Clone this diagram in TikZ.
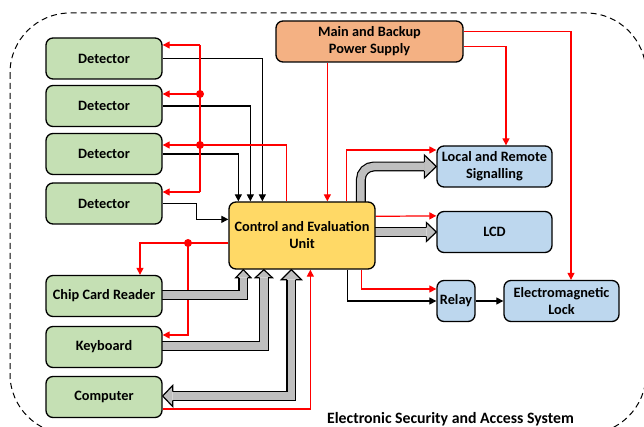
\documentclass[tikz,border=0pt]{standalone}
\usepackage{fontspec}
\setmainfont{Carlito}
\usetikzlibrary{arrows.meta,calc}
\definecolor{grn}{HTML}{C5E0B4}
\definecolor{org}{HTML}{F4B183}
\definecolor{yel}{HTML}{FFD966}
\definecolor{blu}{HTML}{BDD7EE}
\definecolor{gry}{HTML}{BFBFBF}
\pgfdeclarelayer{bg}
\pgfsetlayers{bg,main}
\pgfkeys{/tikz/ghw/.initial=10,/tikz/ghl/.initial=10}
\tikzset{
  box/.style={draw=black, line width=1.3pt, rounded corners=7pt, align=center,
    inner sep=0pt, font=\bfseries\fontsize{14.3}{17}\selectfont,
    minimum width=116pt, minimum height=41pt},
  gbox/.style={box, fill=grn},
  obox/.style={box, fill=org, minimum width=187pt},
  ybox/.style={box, fill=yel, minimum width=146pt, minimum height=67pt},
  bbox/.style={box, fill=blu, minimum width=115pt},
  sig/.style={draw=black, line width=1.2pt, -{Triangle[length=7pt,width=7pt]}},
  pwr/.style={draw=red, line width=1.2pt, -{Triangle[length=7pt,width=7pt]}},
  pwrline/.style={draw=red, line width=1.2pt},
  jdot/.style={fill=red},
  bus/.style={draw=black, line width=1.2pt, double=gry, double distance=7.5pt},
  ghead/.pic={
    \def\hw{\pgfkeysvalueof{/tikz/ghw}}%
    \def\hl{\pgfkeysvalueof{/tikz/ghl}}%
    \fill[gry] (-\hl,-4.35) -- (-\hl,-\hw) -- (0,0) -- (-\hl,\hw) -- (-\hl,4.35) -- cycle;
    \draw[line width=1.2pt, line join=miter] (-\hl,-4.35) -- (-\hl,-\hw) -- (0,0) -- (-\hl,\hw) -- (-\hl,4.35);
  }
}
\begin{document}
\begin{tikzpicture}[x=1pt,y=-1pt]
\useasboundingbox (0,0) rectangle (644,427);
% system boundary
\draw[dash pattern=on 6pt off 4pt, line width=1pt, rounded corners=60pt] (10,13) rectangle (646,434);

% input devices
\node[gbox] (d1) at (104,58.5) {Detector};
\node[gbox] (d2) at (104,106) {Detector};
\node[gbox] (d3) at (104,154) {Detector};
\node[gbox] (d4) at (104,203.5) {Detector};
\node[gbox] (ccr) at (104,296) {Chip Card Reader};
\node[gbox] (kb) at (104,347) {Keyboard};
\node[gbox] (pc) at (104,397) {Computer};
% supply and control
\node[obox] (ps) at (369.5,41.5) {Main and Backup\\Power Supply};
\node[ybox] (cu) at (302,235.5) {Control and Evaluation\\Unit};
% outputs
\node[bbox] (lrs) at (494.5,166.5) {Local and Remote\\Signalling};
\node[bbox] (lcd) at (494.5,232) {LCD};
\node[bbox, minimum width=38pt] (rel) at (456,301) {Relay};
\node[bbox] (eml) at (561.5,301) {Electromagnetic\\Lock};
\node[font=\bfseries\fontsize{15.8}{18}\selectfont] (title) at (450.5,419) {Electronic Security and Access System};

\begin{pgfonlayer}{bg}
% detector signals
\draw[sig] (d1.east) -| ($(cu.north west)+(34,0)$);
\draw[sig] (d2.east) -| ($(cu.north west)+(22,0)$);
\draw[sig] (d3.east) -| ($(cu.north west)+(10,0)$);
\draw[sig] (d4.east) -- ++(34,0) |- ($(cu.north west)+(0,18)$);

% supply lines
\draw[pwr] ($(ps.south west)+(52,0)$) -- ($(cu.north west)+(99,0)$);
\draw[pwr] ($(ps.north east)+(0,11)$) -| ($(eml.north)+(9.5,0)$);
\draw[pwr] ($(ps.north east)+(0,26)$) -| ($(lrs.north)+(11.5,0)$);

% detector supply bus
\coordinate (j1) at (200,45);
\coordinate (j2) at (200,94);
\coordinate (j3) at (200,145);
\coordinate (j4) at (200,192);
\draw[pwr] ($(cu.north west)+(58,0)$) |- ($(d3.east)+(0,-9)$);
\draw[pwrline] (j1) -- (j4);
\draw[pwr] (j1) -- (j1 -| d1.east);
\draw[pwr] (j2) -- (j2 -| d2.east);
\draw[pwr] (j4) -- (j4 -| d4.east);
\fill[jdot] (j2) circle (4pt);
\fill[jdot] (j3) circle (4pt);

% outputs supply and control
\draw[pwr] ($(cu.north west)+(118,0)$) |- ($(lrs.west)+(0,-16.5)$);
\draw[pwr] ($(cu.north east)+(0,15)$) -- ($(lcd.north west)+(0,5)$);
\draw[pwr] ($(cu.south west)+(133,0)$) |- ($(rel.west)+(0,-12)$);
\draw[sig] ($(cu.south west)+(119,0)$) |- (rel.west);
\draw[sig] (rel) -- (eml);

% supply to reader, keyboard and from computer side
\draw[pwr] ($(pc.east)+(0,12)$) -| ($(cu.south west)+(82,0)$);
\draw[pwr] ($(cu.west)+(0,7.5)$) -| ($(ccr.north)+(36,0)$);
\coordinate (j5) at (188,243);
\draw[pwr] (j5) |- ($(kb.east)+(0,-12)$);
\fill[jdot] (j5) circle (4pt);

% data buses
\draw[bus] ($(ccr.east)+(-2,-1)$) -| ($(cu.south west)+(15,8)$);
\pic[rotate=90, ghw=7.5, ghl=8] at ($(cu.south west)+(15,0)$) {ghead};
\draw[bus] ($(kb.east)+(-2,-1)$) -| ($(cu.south west)+(35.5,8)$);
\pic[rotate=90, ghw=8.5, ghl=8] at ($(cu.south west)+(35.5,0)$) {ghead};
\draw[bus] ($(pc.east)+(10,-1)$) -| ($(cu.south west)+(63,10)$);
\pic[rotate=90, ghw=10, ghl=10] at ($(cu.south west)+(63,0)$) {ghead};
\pic[rotate=180, ghw=10.5, ghl=10] at ($(pc.east)+(0,-1)$) {ghead};
\draw[bus] ($(cu.east|-lcd.west)+(-3,0)$) -- ($(lcd.west)+(-10,0)$);
\pic[ghw=9.5, ghl=10] at (lcd.west) {ghead};
\draw[bus, rounded corners=13pt] ($(cu.north west)+(132.5,3)$) |- ($(lrs.west)+(-12,0)$);
\pic[ghw=11.5, ghl=12] at (lrs.west) {ghead};
\end{pgfonlayer}
\end{tikzpicture}
\end{document}
